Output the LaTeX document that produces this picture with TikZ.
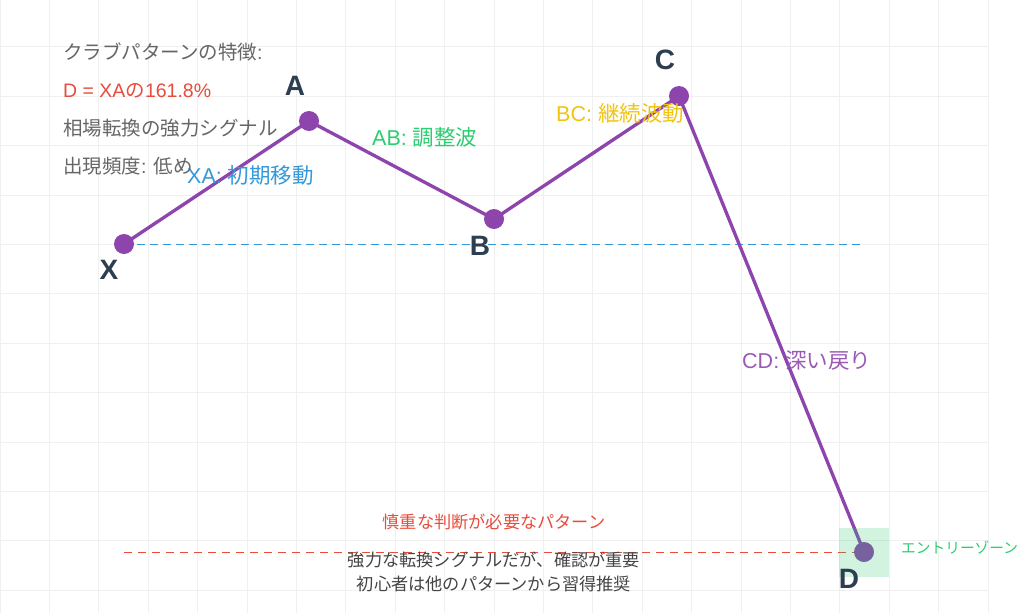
\documentclass[tikz,border=0pt]{standalone}
\usepackage{fontspec}
\setmainfont{Noto Sans CJK JP}
\newfontfamily\lsans{Liberation Sans}
\newfontfamily\latinbold{Liberation Sans}[BoldFont={Liberation Sans Bold}]
\newcommand{\lt}[1]{{\lsans #1}}
\begin{document}
\begin{tikzpicture}[x=1pt,y=-1pt,
  gridline/.style={draw=black!6, line width=0.8pt},
  wave/.style={draw=wavepurple, line width=3.3pt, line cap=round, line join=round},
  pt/.style={circle, fill=wavepurple, minimum size=20pt, inner sep=0pt},
  ptlabel/.style={font=\latinbold\bfseries\fontsize{28}{30}\selectfont, text=labeldark, inner sep=0pt},
  info/.style={anchor=base west, inner sep=0pt, font=\fontsize{19.5}{21}\selectfont},
  seg/.style={anchor=base west, inner sep=0pt, font=\fontsize{21.5}{23}\selectfont},
  note/.style={anchor=base, inner sep=0pt, font=\fontsize{17.2}{19}\selectfont},
]
\definecolor{wavepurple}{HTML}{8E44AD}
\definecolor{labeldark}{HTML}{2C3E50}
\definecolor{infogray}{HTML}{666666}
\definecolor{redc}{HTML}{E74C3C}
\definecolor{bluec}{HTML}{3498DB}
\definecolor{greenc}{HTML}{2ECC71}
\definecolor{yellowc}{HTML}{F1C40F}
\definecolor{lilac}{HTML}{9B59B6}
\definecolor{notedark}{HTML}{444444}
\useasboundingbox (0,0) rectangle (1024,613);
\fill[white] (0,0) rectangle (1024,613);
% grid
\foreach \i in {0,...,20} {\draw[gridline] ({49.4*\i},0) -- ({49.4*\i},613);}
\foreach \j in {1,...,12} {\draw[gridline] (0,{-2.7+49.4*\j}) -- (988,{-2.7+49.4*\j});}
% points
\coordinate (X) at (124,244);
\coordinate (A) at (309,121);
\coordinate (B) at (494,219);
\coordinate (C) at (679,96);
\coordinate (D) at (864,552);
\coordinate (blueend) at (860,244);
\coordinate (redstart) at (124,552);
% dashed levels
\draw[bluec, line width=1pt, dash pattern=on 8pt off 5pt] (X) -- (blueend);
\draw[redc, line width=1pt, dash pattern=on 8pt off 6pt] (redstart) -- (D);
% wave
\draw[wave] (X) -- (A) -- (B) -- (C) -- (D);
\foreach \p in {X,A,B,C,D} {\node[pt] (dot\p) at (\p) {};}
% entry zone
\fill[greenc, opacity=0.22] (839,528) rectangle (889,577);
\node[anchor=base west, inner sep=0pt, text=greenc, font=\fontsize{14.7}{16}\selectfont] (entry) at (901,553) {エントリーゾーン};
% point labels
\node[ptlabel] (lX) at (109,270) {X};
\node[ptlabel] (lA) at (295,86) {A};
\node[ptlabel] (lB) at (480,246) {B};
\node[ptlabel] (lC) at (665,60) {C};
\node[ptlabel] (lD) at (849,579) {D};
% segment labels
\node[seg, text=bluec] (sXA) at (187,183) {\lt{XA: }初期移動};
\node[seg, text=greenc] (sAB) at (372,145) {\lt{AB: }調整波};
\node[seg, text=yellowc] (sBC) at (556,121) {\lt{BC: }継続波動};
\node[seg, text=lilac] (sCD) at (742,368) {\lt{CD: }深い戻り};
% info
\node[info, text=infogray] (i1) at (63,59) {クラブパターンの特徴\lt{:}};
\node[info, text=redc] (i2) at (63,97) {\lt{D = XA}の\lt{161.8\%}};
\node[info, text=infogray] (i3) at (63,135) {相場転換の強力シグナル};
\node[info, text=infogray] (i4) at (63,173) {出現頻度\lt{: }低め};
% notes
\node[note, text=redc] (n1) at (494,528) {慎重な判断が必要なパターン};
\node[note, text=notedark] (n2) at (494,566) {強力な転換シグナルだが、確認が重要};
\node[note, text=notedark] (n3) at (494,590) {初心者は他のパターンから習得推奨};
\end{tikzpicture}
\end{document}
